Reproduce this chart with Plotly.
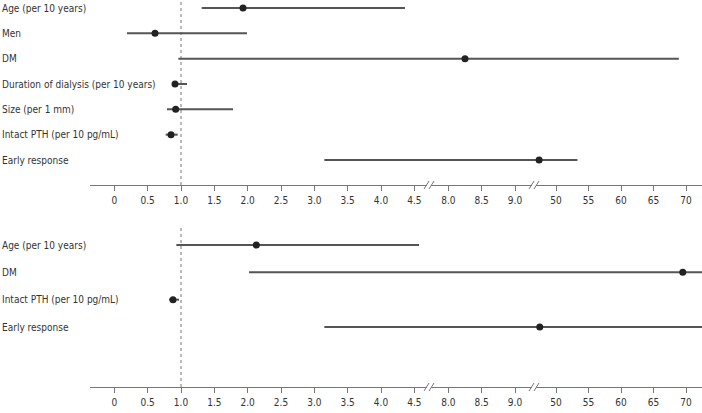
import plotly.graph_objects as go

# ---------------- data ----------------
top_labels = ["Age (per 10 years)", "Men", "DM", "Duration of dialysis (per 10 years)",
              "Size (per 1 mm)", "Intact PTH (per 10 pg/mL)", "Early response"]
top_or = [1.93, 0.61, 8.25, 0.91, 0.92, 0.85, 47.4]
top_lo = [1.31, 0.19, 0.96, 0.87, 0.79, 0.77, 3.15]
top_hi = [4.36, 1.99, 68.9, 1.09, 1.78, 0.95, 53.3]

bot_labels = ["Age (per 10 years)", "DM", "Intact PTH (per 10 pg/mL)", "Early response"]
bot_or = [2.13, 69.5, 0.88, 47.5]
bot_lo = [0.93, 2.02, 0.82, 3.15]
bot_hi = [4.57, 80.0, 0.97, 80.0]

seg1_ticks = [0, 0.5, 1.0, 1.5, 2.0, 2.5, 3.0, 3.5, 4.0, 4.5]
seg1_text = ["0", "0.5", "1.0", "1.5", "2.0", "2.5", "3.0", "3.5", "4.0", "4.5"]
seg2_ticks = [8.0, 8.5, 9.0]
seg2_text = ["8.0", "8.5", "9.0"]
seg3_ticks = [50, 55, 60, 65, 70]
seg3_text = ["50", "55", "60", "65", "70"]

# ---------------- layout helpers ----------------
W, H = 702, 413
FONT = "Liberation Sans Narrow, DejaVu Sans Condensed, Arial Narrow, sans-serif"
LINE_C = "#555555"
DOT_C = "#222222"
TXT_C = "#333333"

def px(x):
    return x / W

def py(y):
    return (H - y) / H

seg_domains = [[px(90), px(430)], [px(430), px(535)], [px(535), 1.0]]
seg_ranges = [[-0.365, 4.735], [7.725, 9.3], [46.77, 72.46]]
seg_tickvals = [seg1_ticks, seg2_ticks, seg3_ticks]
seg_ticktext = [seg1_text, seg2_text, seg3_text]

fig = go.Figure()

def add_panel(labels, orv, lo, hi, xnames, yname):
    n = len(labels)
    xs, ys = [], []
    for i in range(n):
        xs += [lo[i], hi[i], None]
        ys += [i, i, None]
    for xn in xnames:
        fig.add_trace(go.Scatter(x=xs, y=ys, mode="lines", xaxis=xn, yaxis=yname,
                                 line=dict(color=LINE_C, width=2), showlegend=False,
                                 hoverinfo="skip"))
        fig.add_trace(go.Scatter(x=orv, y=list(range(n)), mode="markers", xaxis=xn, yaxis=yname,
                                 marker=dict(color=DOT_C, size=7), showlegend=False))
    yref = "y" if yname == "y" else yname
    for i, lab in enumerate(labels):
        fig.add_annotation(x=0, xref="paper", y=i, yref=yref, text=lab, showarrow=False,
                           xanchor="left", yanchor="middle",
                           font=dict(family=FONT, size=10, color=TXT_C))
    # dotted reference line at 1.0
    fig.add_shape(type="line", xref=xnames[0], yref=yref + " domain", x0=1.0, x1=1.0, y0=0, y1=1,
                  line=dict(color="#777777", width=1, dash="dot"), layer="below")

add_panel(top_labels, top_or, top_lo, top_hi, ["x", "x2", "x3"], "y")
add_panel(bot_labels, bot_or, bot_lo, bot_hi, ["x4", "x5", "x6"], "y2")

layout = dict(
    width=W, height=H, margin=dict(l=0, r=0, t=0, b=0),
    paper_bgcolor="white", plot_bgcolor="white",
    yaxis=dict(domain=[py(185), 1.0], range=[6.987, -0.316], visible=False, anchor="x"),
    yaxis2=dict(domain=[py(387), py(225)], range=[5.195, -0.732], visible=False, anchor="x4"),
)
axis_names = ["xaxis", "xaxis2", "xaxis3", "xaxis4", "xaxis5", "xaxis6"]
for k, an in enumerate(axis_names):
    s = k % 3
    layout[an] = dict(
        domain=seg_domains[s], range=seg_ranges[s], anchor="y" if k < 3 else "y2",
        tickmode="array", tickvals=seg_tickvals[s], ticktext=seg_ticktext[s],
        showline=True, linecolor="#777777", linewidth=1.2,
        ticks="outside", ticklen=5, tickcolor="#777777", tickwidth=1,
        ticklabelstandoff=1,
        showgrid=False, zeroline=False, fixedrange=True,
        tickfont=dict(family=FONT, size=10, color=TXT_C),
    )
fig.update_layout(**layout)

# axis break marks "//"
for axis_y in [185, 387]:
    for bx in [429, 534]:
        fig.add_shape(type="rect", xref="paper", yref="paper",
                      x0=px(bx - 2), x1=px(bx + 2), y0=py(axis_y + 1.5), y1=py(axis_y - 1.5),
                      fillcolor="white", line=dict(width=0))
        for off in [-2.5, 2.5]:
            fig.add_shape(type="line", xref="paper", yref="paper",
                          x0=px(bx + off - 2.5), x1=px(bx + off + 2.5),
                          y0=py(axis_y + 4), y1=py(axis_y - 4),
                          line=dict(color="#777777", width=1))

fig.write_html("out.html")
